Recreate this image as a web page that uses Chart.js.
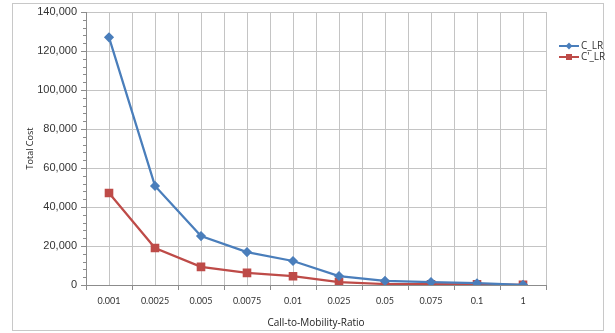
<!DOCTYPE html>
<html lang="en">
  <head>
    <meta charset="UTF-8" />
    <title>Total Cost vs Call-to-Mobility-Ratio</title>
    <script src="https://cdn.jsdelivr.net/npm/chart.js@4.4.0/dist/chart.umd.min.js"></script>
    <style>
      body { margin: 0; background: #fff; }
      #wrap { position: relative; width: 615px; height: 333px; }
      #frame { position: absolute; left: 12px; top: 3px; width: 590px; height: 326px; border: 1px solid #c8c8c8; pointer-events: none; }
      .legend { position: absolute; left: 559px; top: 40px; font: 10px "Open Sans", sans-serif; color: #333; }
      .item { position: relative; height: 11px; line-height: 11px; padding-left: 22px; }
      .line { position: absolute; left: 0; top: 5px; width: 20px; height: 2px; }
      .mark { position: absolute; left: 7px; top: 3px; width: 6px; height: 6px; }
    </style>
  </head>

  <body>
    <div id="wrap">
      <canvas id="chart" width="615" height="333"></canvas>
      <div id="frame"></div>
      <div class="legend">
        <div class="item"><span class="line" style="background:#4a7ebb"></span><span class="mark" style="background:#4a7ebb;transform:rotate(45deg) scale(0.8)"></span>C_LR</div>
        <div class="item"><span class="line" style="background:#be4b48"></span><span class="mark" style="background:#be4b48"></span>C'_LR</div>
      </div>
    </div>

    <script>
      // values
      const ratios = ["0.001", "0.0025", "0.005", "0.0075", "0.01", "0.025", "0.05", "0.075", "0.1", "1"];
      const costLR = [127000, 50800, 25100, 16900, 12300, 4600, 2100, 1500, 900, 100];
      const costPrimeLR = [47200, 19000, 9300, 6200, 4500, 1500, 500, 400, 300, 100];
      const yMax = 140000;
      const yStep = 20000;
      const yMinorStep = 4000;

      const gridColor = "#c4c4c4";
      const axisColor = "#8c8c8c";

      // extra grid: vertical lines at each category centre + minor y ticks
      const extraGrid = {
        id: "extraGrid",
        beforeDatasetsDraw(chart) {
          const { ctx, chartArea, scales } = chart;
          ctx.save();
          ctx.strokeStyle = gridColor;
          ctx.lineWidth = 1;
          ratios.forEach((r, i) => {
            const x = Math.round(scales.x.getPixelForValue(i)) + 0.5;
            ctx.beginPath();
            ctx.moveTo(x, chartArea.top);
            ctx.lineTo(x, chartArea.bottom);
            ctx.stroke();
          });
          ctx.strokeStyle = axisColor;
          for (let v = 0; v <= yMax; v += yMinorStep) {
            if (v % yStep === 0) continue;
            const y = Math.round(scales.y.getPixelForValue(v)) + 0.5;
            ctx.beginPath();
            ctx.moveTo(chartArea.left - 3, y);
            ctx.lineTo(chartArea.left, y);
            ctx.stroke();
          }
          ctx.restore();
        }
      };

      const ctx = document.getElementById("chart").getContext("2d");

      new Chart(ctx, {
        type: "line",
        data: {
          labels: ratios,
          datasets: [
            {
              label: "C_LR",
              data: costLR,
              borderColor: "#4a7ebb",
              backgroundColor: "#4a7ebb",
              borderWidth: 2.25,
              pointStyle: "rectRot",
              pointRadius: 3.5,
              pointHoverRadius: 3.5,
              tension: 0
            },
            {
              label: "C'_LR",
              data: costPrimeLR,
              borderColor: "#be4b48",
              backgroundColor: "#be4b48",
              borderWidth: 2.25,
              pointStyle: "rect",
              pointRadius: 4.5,
              pointHoverRadius: 4.5,
              tension: 0
            }
          ]
        },
        plugins: [extraGrid],
        options: {
          responsive: false,
          animation: false,
          events: [],
          layout: { padding: { left: 21, right: 69, top: 12, bottom: 0 } },
          plugins: {
            legend: { display: false },
            tooltip: { enabled: false }
          },
          scales: {
            x: {
              offset: true,
              grid: { offset: true, color: gridColor, tickColor: axisColor, tickLength: 5 },
              border: { color: axisColor },
              ticks: { color: "#333", font: { family: "Lato", size: 9 }, maxRotation: 0, padding: 6 },
              title: { display: true, text: "Call-to-Mobility-Ratio", color: "#222", font: { family: "Open Sans", size: 10 }, padding: { top: 6 } },
              afterFit(scale) { scale.height = 48; }
            },
            y: {
              min: 0,
              max: yMax,
              grid: { color: gridColor, tickColor: axisColor, tickLength: 5 },
              border: { color: axisColor },
              ticks: {
                stepSize: yStep,
                color: "#333",
                font: { family: "Liberation Sans", size: 11 },
                padding: 4,
                callback: (v) => v.toLocaleString("en-US")
              },
              title: { display: true, text: "Total Cost", color: "#222", font: { family: "Open Sans", size: 9 }, padding: { bottom: 0 } },
              afterFit(scale) { scale.width = 65; }
            }
          }
        }
      });
    </script>
  </body>
</html>
